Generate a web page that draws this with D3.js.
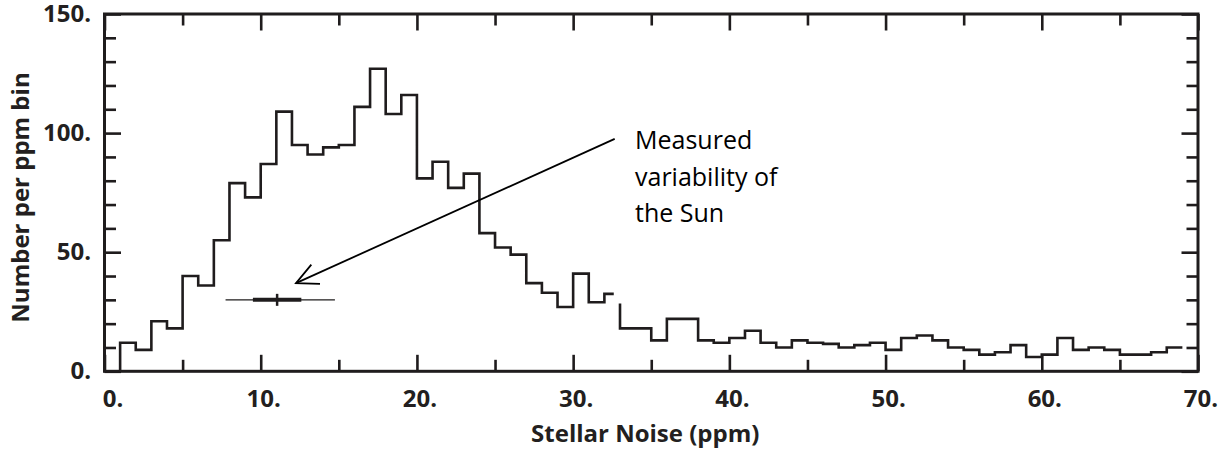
<!DOCTYPE html>
<html>
<head>
<meta charset="utf-8">
<script src="https://cdn.jsdelivr.net/npm/d3@7"></script>
<style>
  html, body { margin: 0; padding: 0; background: #fff; }
  svg text { fill: #231f20; }
</style>
</head>
<body>
<script>
// histogram of stellar noise, 1 ppm bins (two pieces, as in the original figure)
const binStarts1 = [1, 2, 3, 4, 5, 6, 7, 8, 9, 10, 11, 12, 13, 14, 15, 16,
                    17, 18, 19, 20, 21, 22, 23, 24, 25, 26, 27, 28, 29, 30, 31, 32];
const counts1 = [12, 9, 21, 18, 40, 36, 55, 79, 73, 87, 109, 95, 91, 94, 95, 111,
                 127, 108, 116, 81, 88, 77, 83, 58, 52, 49, 37, 33, 27, 41, 29, 32.5];
const end1 = 32.6;

const start2Level = 28.5;
const binStarts2 = [33, 34, 35, 36, 37, 38, 39, 40, 41, 42, 43, 44, 45, 46, 47, 48, 49, 50,
                    51, 52, 53, 54, 55, 56, 57, 58, 59, 60, 61, 62, 63, 64, 65, 66, 67, 68];
const counts2 = [18, 18, 13, 22, 22, 13, 12, 14, 17, 12, 10, 13, 12, 11.5, 10, 11, 12, 9,
                 14, 15, 13, 10, 9, 7, 8, 11, 6, 7, 14, 9, 10, 9, 7, 7, 8, 10];
const end2 = 69;

// measured solar variability marker
const sunLevel = 30;
const sunMedian = 11.05;
const sunInner = [9.5, 12.6];
const sunOuter = [7.75, 14.75];

// annotation arrow (data units)
const arrowFrom = [32.66, 97.6];
const arrowTo = [12.26, 37];
const noteLines = ["Measured", "variability of", "the Sun"];

const xMajor = [0, 10, 20, 30, 40, 50, 60, 70];
const xMinor = [5, 15, 25, 35, 45, 55, 65];
const yMajor = [0, 50, 100, 150];
const yMinor = [10, 20, 30, 40, 60, 70, 80, 90, 110, 120, 130, 140];

const W = 1228, H = 450;
const margin = { top: 14, right: 30, bottom: 79, left: 104.5 };
const width = 1198 - margin.left,
      height = 371.3 - margin.top;

const svg = d3.select("body").append("svg")
    .attr("width", W)
    .attr("height", H);

const g = svg.append("g")
    .attr("transform", `translate(${margin.left},${margin.top})`);

const x = d3.scaleLinear().domain([0, 70]).range([0, width]);
const y = d3.scaleLinear().domain([0, 150]).range([height, 0]);

const ink = "#1f1c1d";
const fmt = (d) => d + ".";

// axes with inward ticks
function styleAxis(sel) {
  sel.select(".domain").remove();
  sel.selectAll(".tick line").attr("stroke", ink).attr("stroke-width", 2.6);
  sel.selectAll(".tick text")
    .attr("font-family", "'Open Sans', sans-serif")
    .attr("font-weight", 700)
    .attr("font-size", 24)
    .style("fill", "#231f20");
}

g.append("g").attr("transform", `translate(0,${height})`)
  .call(d3.axisBottom(x).tickValues(xMajor).tickSize(-16.5).tickPadding(18.5).tickFormat(fmt))
  .call(styleAxis)
  .call((s) => s.selectAll(".tick text").attr("dx", (d) => d === 0 ? 8 : 2.5));
g.append("g").attr("transform", `translate(0,${height})`)
  .call(d3.axisBottom(x).tickValues(xMinor).tickSize(-11.5).tickFormat(""))
  .call(styleAxis);
g.append("g")
  .call(d3.axisTop(x).tickValues(xMajor).tickSize(-16.5).tickFormat(""))
  .call(styleAxis);
g.append("g")
  .call(d3.axisTop(x).tickValues(xMinor).tickSize(-11.5).tickFormat(""))
  .call(styleAxis);

g.append("g")
  .call(d3.axisLeft(y).tickValues(yMajor).tickSize(-16.5).tickPadding(13.5).tickFormat(fmt))
  .call(styleAxis);
g.append("g")
  .call(d3.axisLeft(y).tickValues(yMinor).tickSize(-11.5).tickFormat(""))
  .call(styleAxis);
g.append("g").attr("transform", `translate(${width},0)`)
  .call(d3.axisRight(y).tickValues(yMajor).tickSize(-16.5).tickFormat(""))
  .call(styleAxis);
g.append("g").attr("transform", `translate(${width},0)`)
  .call(d3.axisRight(y).tickValues(yMinor).tickSize(-11.5).tickFormat(""))
  .call(styleAxis);

g.append("rect")
  .attr("width", width)
  .attr("height", height)
  .attr("fill", "none")
  .attr("stroke", ink)
  .attr("stroke-width", 3);

// histogram steps
const step = d3.line()
  .x((d) => x(d[0]))
  .y((d) => y(d[1]))
  .curve(d3.curveStepAfter);

const piece1 = [[binStarts1[0], 0]]
  .concat(binStarts1.map((b, i) => [b, counts1[i]]))
  .concat([[end1, counts1[counts1.length - 1]]]);
const piece2 = [[binStarts2[0], start2Level]]
  .concat(binStarts2.map((b, i) => [b, counts2[i]]))
  .concat([[end2, counts2[counts2.length - 1]]]);

g.selectAll("path.hist")
  .data([piece1, piece2])
  .enter().append("path")
  .attr("class", "hist")
  .attr("fill", "none")
  .attr("stroke", ink)
  .attr("stroke-width", 2.6)
  .attr("stroke-linejoin", "miter")
  .attr("d", step);

// sun marker
g.append("line")
  .attr("x1", x(sunOuter[0])).attr("x2", x(sunOuter[1]))
  .attr("y1", y(sunLevel)).attr("y2", y(sunLevel))
  .attr("stroke", ink).attr("stroke-width", 1.2);
g.append("line")
  .attr("x1", x(sunInner[0])).attr("x2", x(sunInner[1]))
  .attr("y1", y(sunLevel)).attr("y2", y(sunLevel))
  .attr("stroke", ink).attr("stroke-width", 4);
g.append("line")
  .attr("x1", x(sunMedian)).attr("x2", x(sunMedian))
  .attr("y1", y(sunLevel) - 6).attr("y2", y(sunLevel) + 6)
  .attr("stroke", ink).attr("stroke-width", 2.5);

// arrow
const ax0 = x(arrowFrom[0]), ay0 = y(arrowFrom[1]);
const ax1 = x(arrowTo[0]), ay1 = y(arrowTo[1]);
const ang = Math.atan2(ay0 - ay1, ax0 - ax1);
const headLen = 24, spread = 26 * Math.PI / 180;
g.append("line")
  .attr("x1", ax0).attr("y1", ay0).attr("x2", ax1).attr("y2", ay1)
  .attr("stroke", "#000").attr("stroke-width", 1.8);
g.append("path")
  .attr("fill", "none")
  .attr("stroke", "#000")
  .attr("stroke-width", 1.8)
  .attr("d", d3.line()([
    [ax1 + headLen * Math.cos(ang - spread), ay1 + headLen * Math.sin(ang - spread)],
    [ax1, ay1],
    [ax1 + headLen * Math.cos(ang + spread), ay1 + headLen * Math.sin(ang + spread)]
  ]));

// annotation text
svg.append("text")
  .attr("x", 635)
  .attr("y", 149.3)
  .attr("font-family", "'Open Sans', sans-serif")
  .attr("font-size", 25)
  .style("fill", "#000")
  .selectAll("tspan")
  .data(noteLines)
  .enter().append("tspan")
  .attr("x", 635)
  .attr("dy", (d, i) => i === 0 ? 0 : 36.2)
  .text((d) => d);

// axis titles
svg.append("text")
  .attr("x", margin.left + x(35) - 6)
  .attr("y", 441.5)
  .attr("text-anchor", "middle")
  .attr("font-family", "'Open Sans', sans-serif")
  .attr("font-weight", 700)
  .attr("font-size", 24)
  .text("Stellar Noise (ppm)");

svg.append("text")
  .attr("transform", "translate(29,197.5) rotate(-90)")
  .attr("text-anchor", "middle")
  .attr("font-family", "'Open Sans', sans-serif")
  .attr("font-weight", 700)
  .attr("font-size", 24)
  .text("Number per ppm bin");
</script>
</body>
</html>
